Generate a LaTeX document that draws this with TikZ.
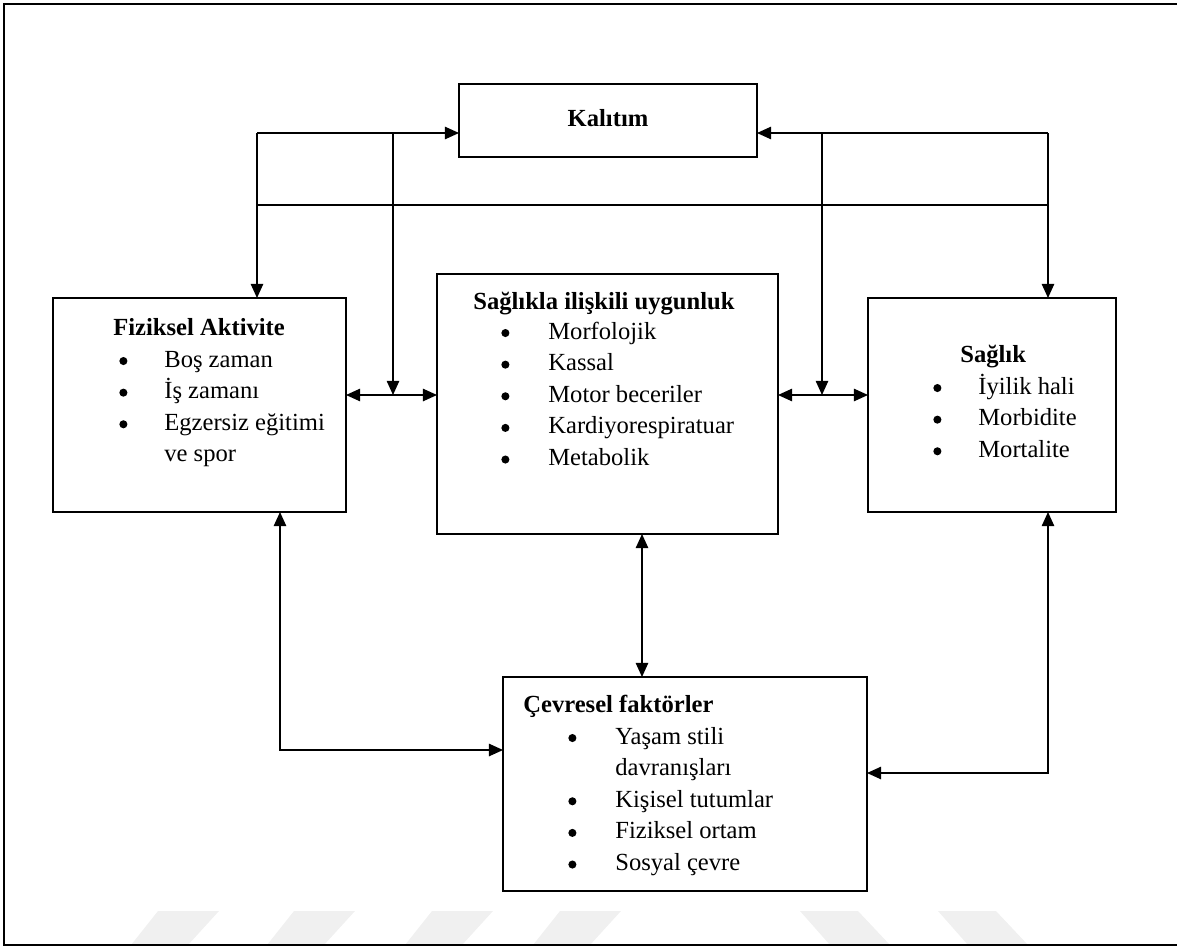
\documentclass[tikz,border=0pt]{standalone}
\usepackage{fontspec}
\setmainfont{Liberation Serif}
\usetikzlibrary{arrows.meta}
\newcommand{\bul}{\tikz[baseline=-3.4pt]\fill (0,0) circle (2.3pt);}

\begin{document}
\begin{tikzpicture}[x=0.02cm,y=-0.02cm,
 box/.style={draw,line width=0.9pt,inner sep=0pt,outer sep=0pt},
 txt/.style={inner sep=0pt,font=\fontsize{14}{18}\selectfont},
 title/.style={inner sep=0pt,font=\fontsize{14}{18}\selectfont\bfseries},
 arr/.style={line width=0.9pt,-{Triangle[length=8pt,width=7pt]}},
 arrs/.style={line width=0.9pt,{Triangle[length=8pt,width=7pt]}-{Triangle[length=8pt,width=7pt]}}]
 \useasboundingbox (0,0) rectangle (1177,947);
 \foreach \x in {131,267,405,533} \fill[gray!12] (\x,945) -- ++(57,0) -- ++(31,-34) -- ++(-61,0) -- cycle;
 \foreach \x in {830,968} \fill[gray!12] (\x,945) -- ++(60,0) -- ++(-32,-34) -- ++(-58,0) -- cycle;
 \draw[line width=1.4pt] (1190,4) -- (4,4) -- (4,945) -- (1190,945);

 \node[box,title,minimum width=5.96cm,minimum height=1.46cm] (kal) at (608,120.5) {\raisebox{3pt}{Kalıtım}};
 \node[box,minimum width=5.86cm,minimum height=4.28cm] (fa) at (199.5,405) {};
 \node[box,minimum width=6.82cm,minimum height=5.2cm] (siu) at (607.5,404) {};
 \node[box,minimum width=4.96cm,minimum height=4.28cm] (sag) at (992,405) {};
 \node[box,minimum width=7.28cm,minimum height=4.28cm] (cev) at (685,784) {};

 \node[title,anchor=base west] (fa-t) at (113,335) {Fiziksel Aktivite};
 \node[txt,anchor=base west] (fa-l) at (119,367) {\begin{tabular}[t]{@{}p{0.9cm}@{}l@{}}
  \bul & Boş zaman\\ \bul & İş zamanı\\ \bul & Egzersiz eğitimi\\ & ve spor\end{tabular}};
 \node[title,anchor=base west] (siu-t) at (473,309) {Sağlıkla ilişkili uygunluk};
 \node[txt,anchor=base west] (siu-l) at (501,339) {\begin{tabular}[t]{@{}p{0.94cm}@{}l@{}}
  \bul & Morfolojik\\ \bul & Kassal\\ \bul & Motor beceriler\\
  \bul & Kardiyorespiratuar\\ \bul & Metabolik\end{tabular}};
 \node[title,anchor=base west] (sag-t) at (960,362) {Sağlık};
 \node[txt,anchor=base west] (sag-l) at (933,394) {\begin{tabular}[t]{@{}p{0.9cm}@{}l@{}}
  \bul & İyilik hali\\ \bul & Morbidite\\ \bul & Mortalite\end{tabular}};
 \node[title,anchor=base west] (cev-t) at (523,712) {Çevresel faktörler};
 \node[txt,anchor=base west] (cev-l) at (568,744) {\begin{tabular}[t]{@{}p{0.94cm}@{}l@{}}
  \bul & Yaşam stili\\ & davranışları\\ \bul & Kişisel tutumlar\\
  \bul & Fiziksel ortam\\ \bul & Sosyal çevre\end{tabular}};

 \coordinate (tl) at (257,133);
 \coordinate (tr) at (1048,133);
 \coordinate (ml) at (257,205);
 \coordinate (mr) at (1048,205);
 \coordinate (j1) at (393,395);
 \coordinate (j2) at (822,395);
 \coordinate (lb) at (280,750);
 \coordinate (rb) at (1048,773);
 \coordinate (sc) at (642,600);

 \draw[arr] (tl) -- (tl -| kal.west);
 \draw[arr] (tr) -- (tr -| kal.east);
 \draw[arr] (tl) -- (tl |- fa.north);
 \draw[arr] (tr) -- (tr |- sag.north);
 \draw[line width=0.9pt] (ml) -- (mr);
 \draw[arr] (j1 |- tl) -- (j1);
 \draw[arr] (j2 |- tr) -- (j2);
 \draw[arrs] (fa.east |- j1) -- (siu.west |- j1);
 \draw[arrs] (siu.east |- j2) -- (sag.west |- j2);
 \draw[arrs] (sc |- siu.south) -- (sc |- cev.north);
 \draw[arrs] (lb |- fa.south) -- (lb) -- (lb -| cev.west);
 \draw[arrs] (rb |- sag.south) -- (rb) -- (rb -| cev.east);
\end{tikzpicture}
\end{document}
